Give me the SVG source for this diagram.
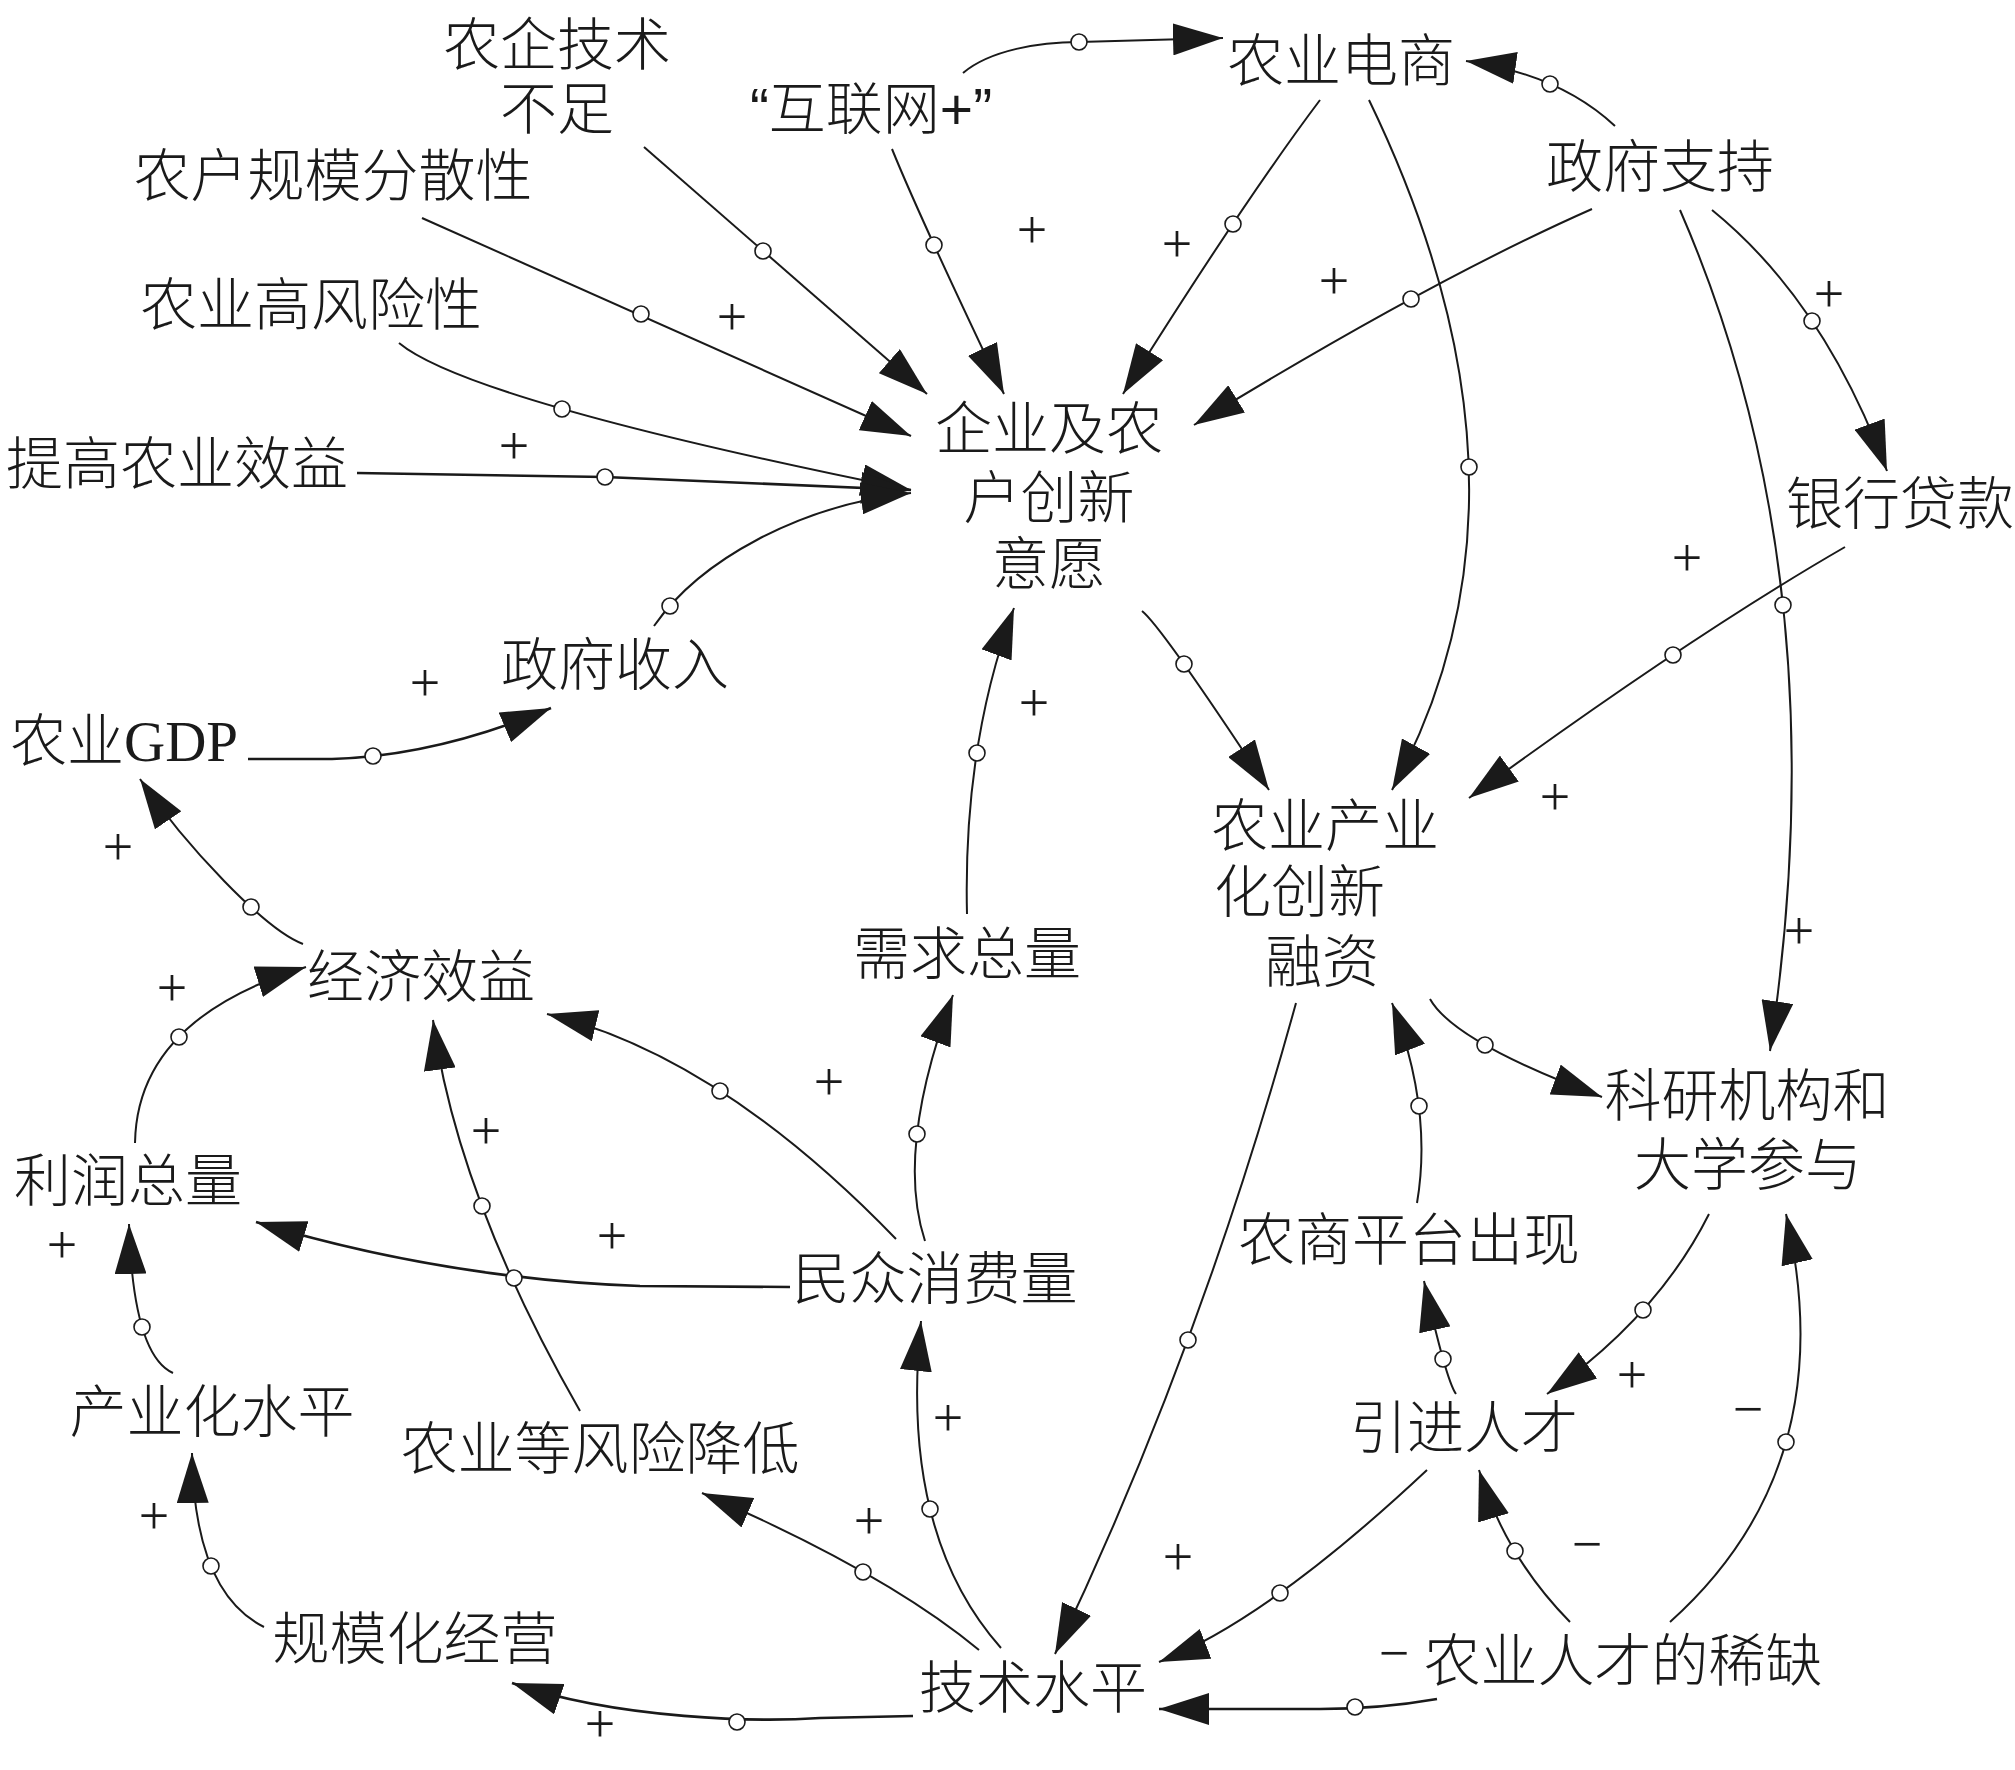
<svg xmlns="http://www.w3.org/2000/svg" width="2015" height="1770" viewBox="0 0 2015 1770">
<style>
.t{font-family:"Liberation Sans","Noto Sans CJK SC",sans-serif;font-size:57px;font-weight:300;fill:#1a1a1a;text-anchor:middle}
.st{text-anchor:start}
.g{font-family:"Liberation Serif",serif}
.l{fill:none;stroke:#1a1a1a;stroke-width:2;marker-end:url(#ah)}
.c{fill:#fff;stroke:#1a1a1a;stroke-width:1.6}
.s{font-family:"Liberation Serif",serif;font-size:54px;fill:#1a1a1a;text-anchor:middle}
</style>
<defs>
<marker id="ah" viewBox="0 0 50 32" refX="50" refY="16" markerWidth="50" markerHeight="32" markerUnits="userSpaceOnUse" orient="auto">
<path d="M0,0 L50,16 L0,32 Z" fill="#1a1a1a"/>
</marker>
</defs>
<rect width="2015" height="1770" fill="#fff"/>

<g id="nodes">
<g id="n-nqjs"><text class="t" x="557" y="65">农企技术</text><text class="t" x="557" y="129">不足</text></g>
<g id="n-hlw"><text class="t" x="871" y="129">“互联网+”</text></g>
<g id="n-nhgm"><text class="t" x="333" y="196">农户规模分散性</text></g>
<g id="n-nyfx"><text class="t" x="311" y="325">农业高风险性</text></g>
<g id="n-tgxy"><text class="t" x="177" y="484">提高农业效益</text></g>
<g id="n-nyds"><text class="t" x="1341" y="81">农业电商</text></g>
<g id="n-zfzc"><text class="t" x="1660" y="187">政府支持</text></g>
<g id="n-yhdk"><text class="t" x="1900" y="524">银行贷款</text></g>
<g id="n-qycx"><text class="t" x="1049" y="449">企业及农</text><text class="t" x="1049" y="518">户创新</text><text class="t" x="1049" y="584">意愿</text></g>
<g id="n-zfsr"><text class="t" x="615" y="685">政府收入</text></g>
<g id="n-gdp"><text class="t st" x="10" y="761">农业<tspan class="g">GDP</tspan></text></g>
<g id="n-jjxy"><text class="t" x="421" y="997">经济效益</text></g>
<g id="n-xqzl"><text class="t" x="967" y="974">需求总量</text></g>
<g id="n-cyrz"><text class="t" x="1325" y="846">农业产业</text><text class="t st" x="1214" y="912">化创新</text><text class="t" x="1322" y="982">融资</text></g>
<g id="n-kyjg"><text class="t" x="1747" y="1116">科研机构和</text><text class="t" x="1748" y="1185">大学参与</text></g>
<g id="n-lrzl"><text class="t" x="128" y="1201">利润总量</text></g>
<g id="n-mzxf"><text class="t" x="935" y="1299">民众消费量</text></g>
<g id="n-cyhsp"><text class="t" x="212" y="1432">产业化水平</text></g>
<g id="n-fxjd"><text class="t" x="600" y="1469">农业等风险降低</text></g>
<g id="n-gmhjy"><text class="t" x="415" y="1659">规模化经营</text></g>
<g id="n-jssp"><text class="t" x="1033" y="1708">技术水平</text></g>
<g id="n-nspt"><text class="t" x="1409" y="1260">农商平台出现</text></g>
<g id="n-yjrc"><text class="t" x="1464" y="1448">引进人才</text></g>
<g id="n-rcxq"><text class="t" x="1623" y="1681">农业人才的稀缺</text></g>
</g>

<g id="connectors">
<path class="l" d="M644,147 L927,394"/>
<path class="l" d="M892,149 Q920,218 1004,394"/>
<path class="l" d="M422,218 L911,436"/>
<path class="l" d="M399,343 Q469,401 911,490"/>
<path class="l" d="M357,473 L605,477 L911,490" style="stroke-width:2.6"/>
<path class="l" d="M654,626 C700,560 800,505 911,493"/>
<path class="l" d="M248,759 L332,759 C400,757 470,742 551,708" style="stroke-width:2.6"/>
<path class="l" d="M963,73 C990,50 1040,42 1079,42 L1223,38"/>
<path class="l" d="M1615,126 Q1559,74 1466,61"/>
<path class="l" d="M1320,100 Q1244,201 1123,394"/>
<path class="l" d="M1369,100 Q1557,489 1392,790"/>
<path class="l" d="M1592,209 Q1429,281 1194,425"/>
<path class="l" d="M1680,210 Q1841,580 1770,1051"/>
<path class="l" d="M1712,210 Q1824,301 1887,471"/>
<path class="l" d="M1845,547 Q1689,637 1469,798"/>
<path class="l" d="M1142,611 Q1162,627 1269,790"/>
<path class="l" d="M967,914 Q963,745 1014,608"/>
<path class="l" d="M303,944 C265,930 185,845 140,779"/>
<path class="l" d="M135,1143 Q137,1019 306,967"/>
<path class="l" d="M896,1239 Q718,1055 547,1014"/>
<path class="l" d="M580,1411 Q457,1196 433,1020"/>
<path class="l" d="M925,1241 Q895,1150 953,995"/>
<path class="l" d="M790,1287 L640,1286 C580,1284 430,1275 256,1222" style="stroke-width:2.6"/>
<path class="l" d="M173,1373 Q133,1355 129,1224"/>
<path class="l" d="M264,1627 Q194,1592 192,1453"/>
<path class="l" d="M913,1716 L820,1718 C760,1722 620,1720 512,1683" style="stroke-width:2.6"/>
<path class="l" d="M979,1650 Q885,1572 702,1493"/>
<path class="l" d="M1001,1648 Q899,1533 921,1321"/>
<path class="l" d="M1296,1003 Q1200,1351 1055,1654"/>
<path class="l" d="M1430,999 Q1454,1042 1602,1097"/>
<path class="l" d="M1417,1203 Q1433,1109 1392,1003"/>
<path class="l" d="M1456,1394 Q1446,1380 1424,1281"/>
<path class="l" d="M1709,1214 Q1658,1316 1547,1394"/>
<path class="l" d="M1670,1622 Q1844,1466 1786,1214"/>
<path class="l" d="M1570,1622 Q1505,1556 1479,1470"/>
<path class="l" d="M1437,1699 Q1380,1709 1320,1709 L1159,1709" style="stroke-width:2.6"/>
<path class="l" d="M1427,1470 Q1267,1620 1159,1662"/>

<g id="link-circles">
<circle class="c" cx="763" cy="251" r="8"/>
<circle class="c" cx="934" cy="245" r="8"/>
<circle class="c" cx="641" cy="314" r="8"/>
<circle class="c" cx="562" cy="409" r="8"/>
<circle class="c" cx="605" cy="477" r="8"/>
<circle class="c" cx="670" cy="606" r="8"/>
<circle class="c" cx="373" cy="756" r="8"/>
<circle class="c" cx="1079" cy="42" r="8"/>
<circle class="c" cx="1550" cy="84" r="8"/>
<circle class="c" cx="1233" cy="224" r="8"/>
<circle class="c" cx="1469" cy="467" r="8"/>
<circle class="c" cx="1411" cy="299" r="8"/>
<circle class="c" cx="1783" cy="605" r="8"/>
<circle class="c" cx="1812" cy="321" r="8"/>
<circle class="c" cx="1673" cy="655" r="8"/>
<circle class="c" cx="1184" cy="664" r="8"/>
<circle class="c" cx="977" cy="753" r="8"/>
<circle class="c" cx="251" cy="907" r="8"/>
<circle class="c" cx="179" cy="1037" r="8"/>
<circle class="c" cx="720" cy="1091" r="8"/>
<circle class="c" cx="482" cy="1206" r="8"/>
<circle class="c" cx="917" cy="1134" r="8"/>
<circle class="c" cx="514" cy="1278" r="8"/>
<circle class="c" cx="142" cy="1327" r="8"/>
<circle class="c" cx="211" cy="1566" r="8"/>
<circle class="c" cx="737" cy="1722" r="8"/>
<circle class="c" cx="863" cy="1572" r="8"/>
<circle class="c" cx="930" cy="1509" r="8"/>
<circle class="c" cx="1188" cy="1340" r="8"/>
<circle class="c" cx="1485" cy="1045" r="8"/>
<circle class="c" cx="1419" cy="1106" r="8"/>
<circle class="c" cx="1443" cy="1359" r="8"/>
<circle class="c" cx="1643" cy="1310" r="8"/>
<circle class="c" cx="1786" cy="1442" r="8"/>
<circle class="c" cx="1515" cy="1551" r="8"/>
<circle class="c" cx="1355" cy="1707" r="8"/>
<circle class="c" cx="1280" cy="1593" r="8"/>
</g>
</g>

<g id="polarity">
<text class="s" x="1032" y="248">+</text>
<text class="s" x="1177" y="262">+</text>
<text class="s" x="1334" y="299">+</text>
<text class="s" x="1829" y="312">+</text>
<text class="s" x="732" y="335">+</text>
<text class="s" x="514" y="464">+</text>
<text class="s" x="425" y="701">+</text>
<text class="s" x="1034" y="721">+</text>
<text class="s" x="1687" y="576">+</text>
<text class="s" x="1555" y="815">+</text>
<text class="s" x="118" y="865">+</text>
<text class="s" x="172" y="1006">+</text>
<text class="s" x="829" y="1100">+</text>
<text class="s" x="486" y="1149">+</text>
<text class="s" x="612" y="1254">+</text>
<text class="s" x="62" y="1263">+</text>
<text class="s" x="1799" y="949">+</text>
<text class="s" x="948" y="1436">+</text>
<text class="s" x="154" y="1534">+</text>
<text class="s" x="869" y="1539">+</text>
<text class="s" x="1178" y="1575">+</text>
<text class="s" x="1632" y="1393">+</text>
<text class="s" x="600" y="1742">+</text>
<text class="s" x="1748" y="1427">−</text>
<text class="s" x="1587" y="1562">−</text>
<text class="s" x="1394" y="1671">−</text>
</g>
</svg>
